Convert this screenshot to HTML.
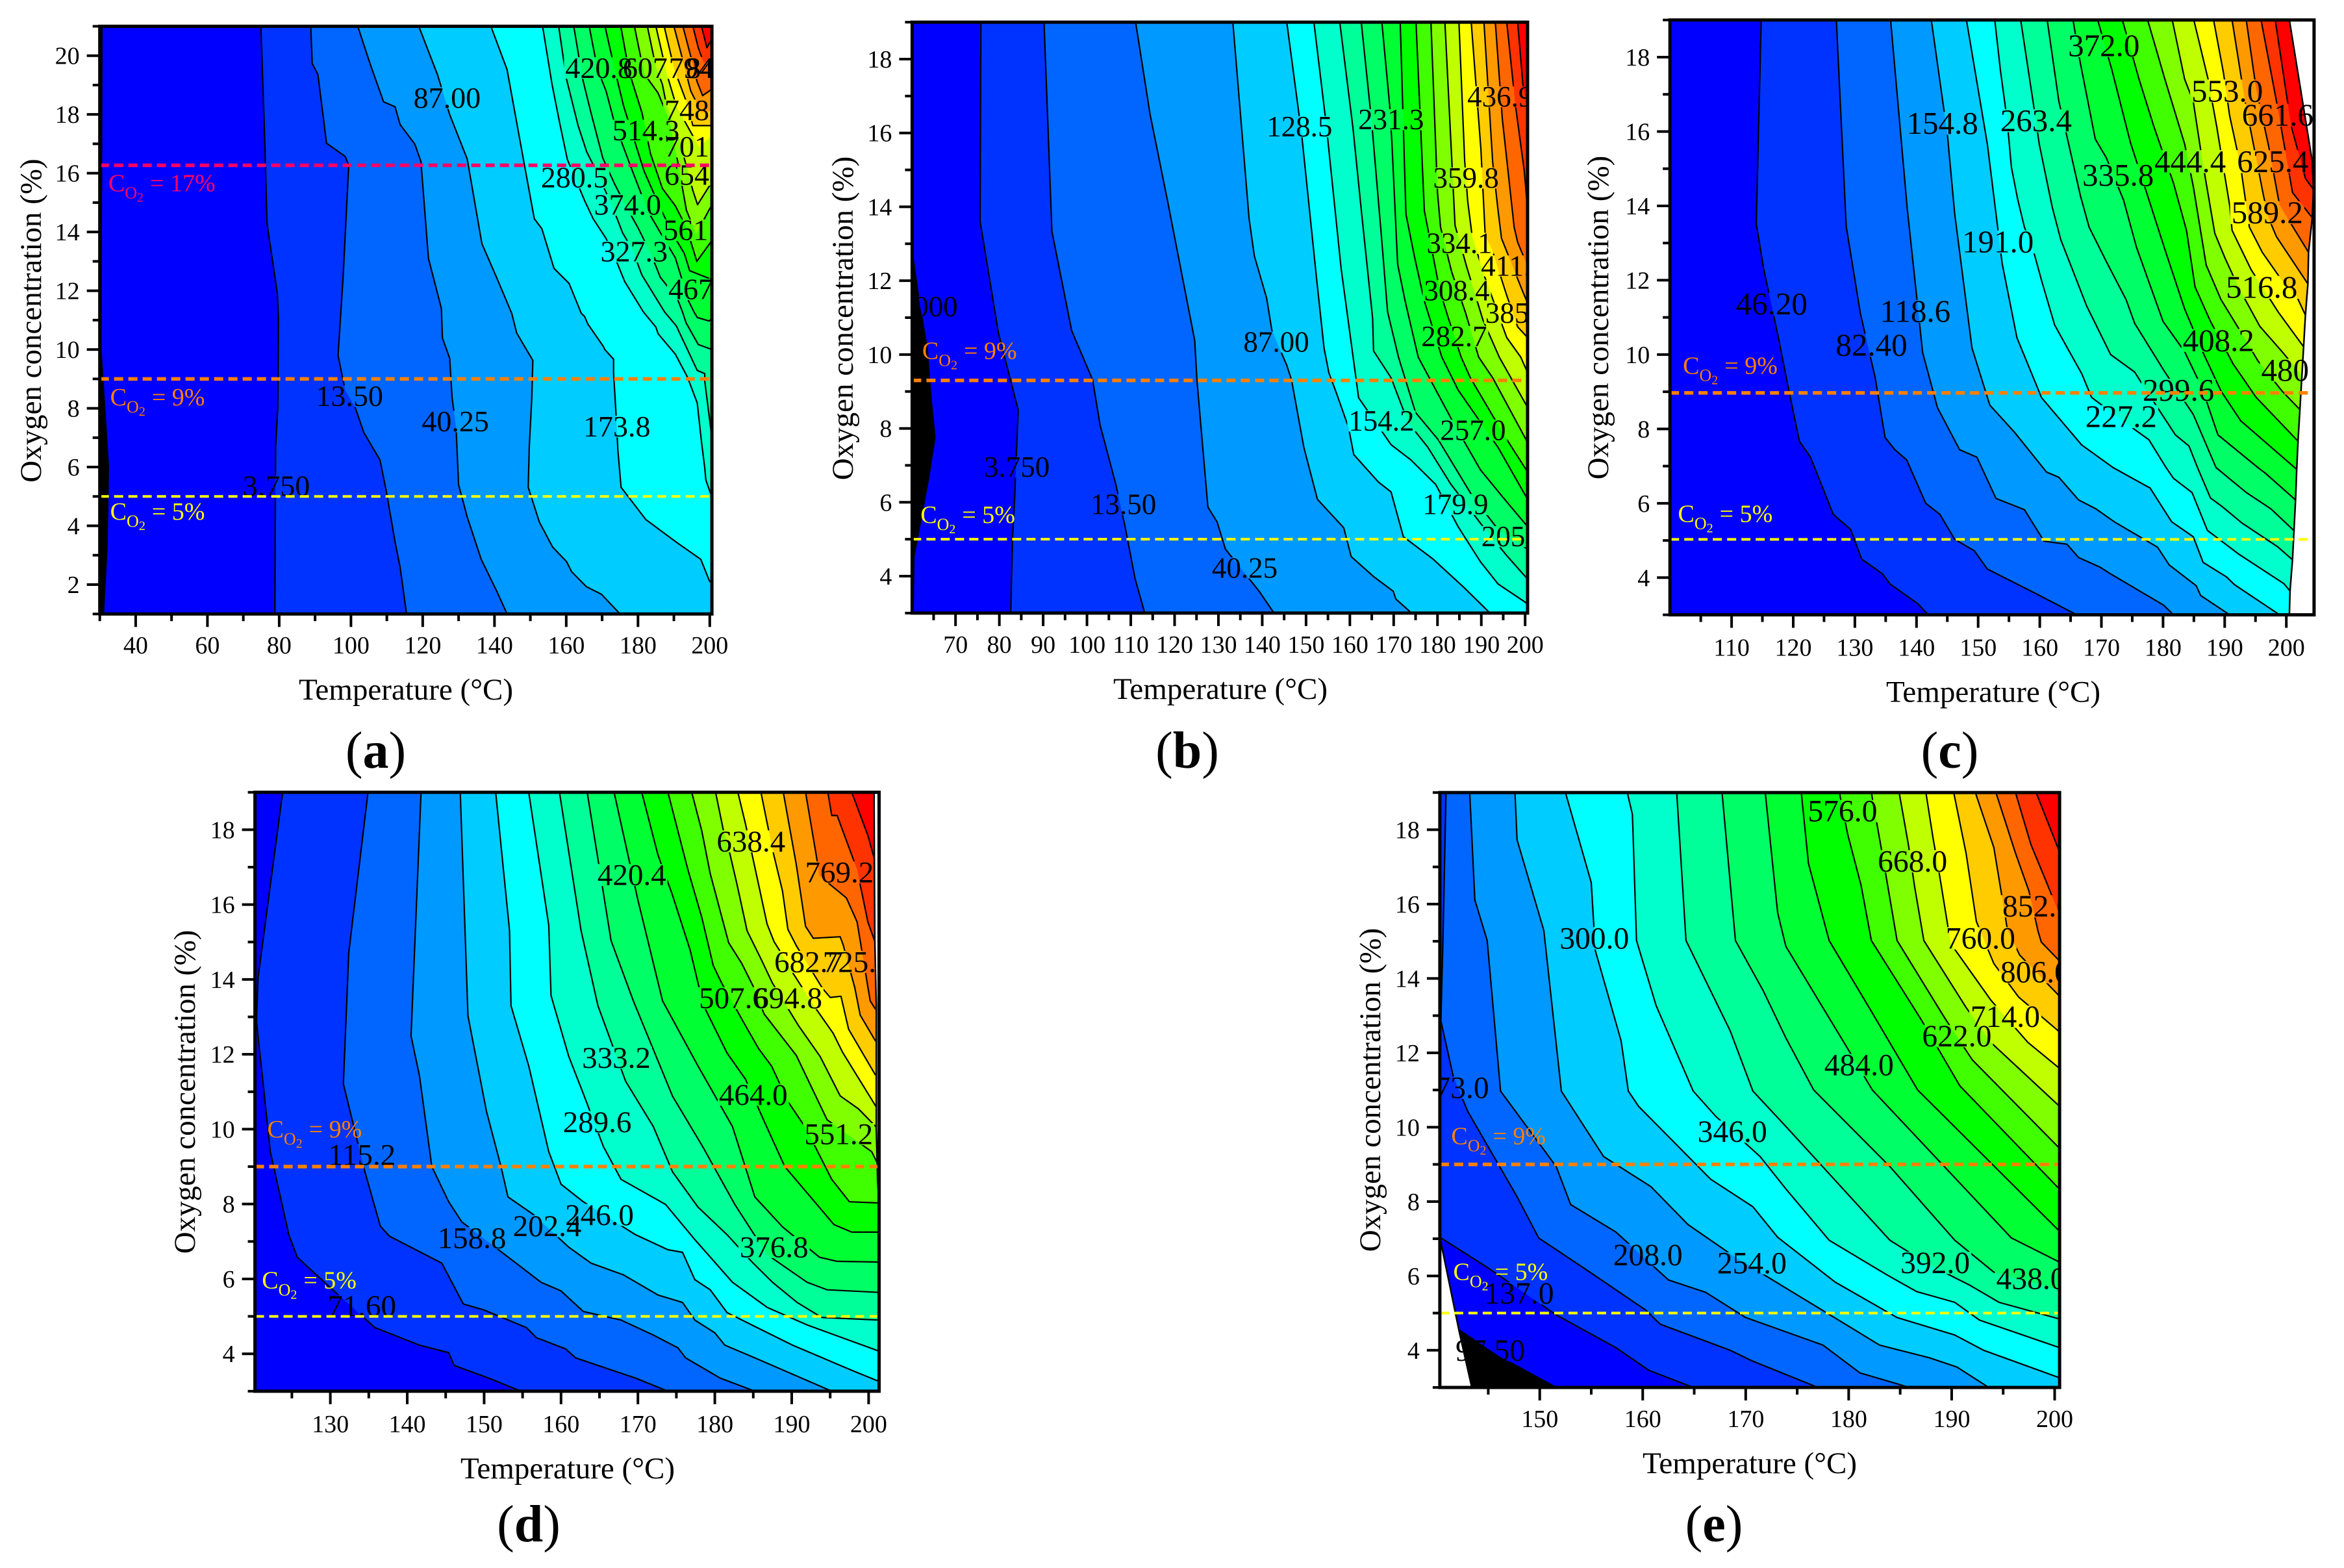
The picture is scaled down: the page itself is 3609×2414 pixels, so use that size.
<!DOCTYPE html>
<html lang="en">
<head>
<meta charset="utf-8">
<title>Oxygen concentration and temperature contour maps</title>
<style>
html,body{margin:0;padding:0;background:#fff}
svg{display:block;font-family:"Liberation Serif","Times New Roman",serif}
</style>
</head>
<body>
<svg id="figure" xmlns="http://www.w3.org/2000/svg" width="3609" height="2414" viewBox="0 0 3609 2414"></svg>
<script>
const bandColors = ['#000000','#0000ff','#0033ff','#0066ff','#0099ff','#00ccff','#00ffff','#00ffcc','#00ff99','#00ff66','#00ff33','#00ff00','#40ff00','#80ff00','#bfff00','#ffff00','#ffcc00','#ff9900','#ff6600','#ff3300','#ff0000'];
const xAxisTitle = 'Temperature (°C)';
const yAxisTitle = 'Oxygen concentration (%)';

/* Panel (a) */
const panelAContours = [
[[30.6,21],[30.3,10.05],[32.4,6],[32,3.3],[31,1]],
[[74.9,21],[76,17],[76.6,14.3],[79.5,11.9],[79.8,11],[79.6,8],[79,6.7],[78.8,1]],
[[88.8,21],[89.2,19.73],[90.8,19.36],[93.2,17.02],[98.4,16.57],[99.4,16.28],[97.8,12.42],[96.4,9.8],[98.4,8.61],[101.2,8.02],[103.6,7.17],[108.1,6.24],[109.9,5.14],[112.3,3.45],[113.7,2.6],[115.5,1]],
[[101.9,21],[105.4,19.7],[109.1,18.43],[112.3,18.26],[113.7,17.66],[117.8,16.99],[119.5,16.4],[121.6,13.1],[125.2,11.4],[125.5,10.39],[127.5,9.71],[128.2,8.36],[129.3,7.34],[130,5.4],[132.4,4.3],[136.3,2.86],[140.7,1.76],[143.5,1]],
[[118.9,21],[124.1,19.36],[127.5,18],[132.4,16.48],[136.5,13.6],[140.7,12.42],[144.8,11.23],[146.2,10.56],[150.7,9.63],[150.4,8.36],[149.7,6.67],[149.4,5.31],[152.5,4.13],[156.2,3.28],[160.1,2.78],[161.5,2.44],[165.6,1.93],[169.8,1.67],[175,1]],
[[139,21],[143.5,19.53],[148.3,16.31],[151.1,14.45],[153.2,14.11],[156.6,12.76],[160.8,12.25],[164.2,11.23],[165.1,11.13],[166,10.87],[170.2,10.13],[170.8,9.99],[173.2,9.67],[173.2,9.21],[173.8,7.96],[174.4,6.56],[175.3,5.31],[182.2,4.21],[190.6,3.45],[197.5,2.86],[200,2.1],[200.6,2.1]],
[[153.4,21],[156.05,19.02],[158.2,17.69],[160.3,16.47],[162.7,15.78],[165.1,15.07],[167.5,14.45],[171.1,13.78],[174.1,12.97],[176.3,12.31],[181.5,11.28],[185,10.76],[185.6,10.54],[190.4,9.84],[193.8,9.06],[196.5,8.18],[197.7,6.85],[198.6,5.97],[198.9,5.57],[200.6,4.97]],
[[157.9,21],[160,19.24],[163.3,17.62],[165.7,16.73],[169.3,15.85],[173.5,14.67],[175.7,13.97],[178.4,13.41],[181.1,12.53],[185.6,11.64],[187.4,11.28],[190.7,10.8],[196.5,9.29],[198.6,9.18],[198.6,8.92],[200.6,7]],
[[162.1,21],[164.5,19.24],[166.9,18.06],[170.2,16.51],[173.5,15.63],[176.6,14.89],[180.1,14.12],[183.8,13.2],[186.2,12.46],[191,11.72],[192.4,11.28],[193.4,10.91],[196.8,10.17],[200.6,10]],
[[166.4,21],[168.7,19.54],[171.1,18.8],[173.5,17.69],[177.8,16.28],[180.8,15.33],[182.6,14.74],[186.8,13.86],[190.4,13.12],[194.1,11.65],[195.6,11.28],[196.5,11.09],[199.8,10.97],[200.6,11.06]],
[[170.8,21],[173.5,19.54],[176,18.28],[179.6,16.88],[181.7,16.07],[186.5,14.74],[190.4,13.78],[192.9,13.27],[194.4,12.68],[200.6,12.38]],
[[175.2,21],[177.5,19.46],[181.1,18.06],[183.5,16.66],[186.8,15.48],[190.4,14.89],[193.5,14.15],[196.4,13],[200.6,13.71]],
[[179,21],[181.7,19.39],[185.6,18.73],[188.6,17.84],[191,16.44],[193.5,14.74],[196.2,13.93],[200.6,14.93]],
[[182.6,21],[185,19.61],[186.8,19.02],[188,18.28],[191.3,17.25],[195.3,15.41],[196.6,14.93],[200.6,15.7]],
[[185,21],[188,19.39],[190.7,18.28],[194.7,17.4],[197.1,16.88],[200.6,17.29]],
[[187.3,21],[190.1,19.54],[193.5,18.43],[195.3,17.62],[200.6,17.62]],
[[190,21],[192.2,19.98],[194.7,18.8],[197.7,18.06],[200.6,18.13]],
[[192.5,21],[194.7,19.98],[196.5,19.1],[198,18.64],[200.6,18.86]],
[[195.3,21],[196.8,20.27],[198.3,19.76],[200.6,19.83]],
[[197.7,21],[199.2,20.27],[200.6,20.57]]
];
const panelALabels = [['87.00',126.8,18.56],['13.50',99.6,8.41],['40.25',129.1,7.55],['173.8',174.1,7.38],['3.750',79.2,5.35],['420.8',169.1,19.58],['607',182,19.58],['794',194.8,19.58],['841',199.6,19.58],['748',193.6,18.14],['514.3',182.2,17.45],['701',193.6,16.9],['280.5',162.3,15.85],['654',193.6,15.94],['374.0',177.1,14.92],['561',193.3,14.06],['327.3',178.9,13.33],['467',194.7,12.05]];
const panelACo2 = [[16.27,'#ff0066',32.4,15.38,'17%'],[9,'#ff8000',32.9,8.1,'9%'],[5,'#ffff00',32.9,4.21,'5%']];
const panelAXMajor = [40,60,80,100,120,140,160,180,200];
const panelAXMinor = [30,50,70,90,110,130,150,170,190];
const panelAYMajor = [2,4,6,8,10,12,14,16,18,20];
const panelAYMinor = [1,3,5,7,9,11,13,15,17,19,21];

/* Panel (b) */
const panelBContours = [
[[60,19],[60,12.87],[61.6,11.53],[63.5,10.18],[64.4,8.83],[65.3,7.76],[63.9,6.68],[62.2,5.6],[60.5,4.53],[60.3,3]],
[[75.8,19],[75.6,13.61],[79.8,10.58],[84.3,8.5],[83.5,6.14],[83,5],[82.6,3]],
[[90.2,19],[92,13.34],[96.5,10.65],[101.3,9.31],[103,8.09],[106.6,6.48],[108.7,5.34],[111,3.92],[113.2,3]],
[[111.1,19],[114.4,16.51],[118.3,14.22],[124.6,10.38],[125.1,9.31],[127.6,5.87],[129.7,5.47],[131.6,4.73],[139.3,3.59],[142.7,3]],
[[133.3,19],[137,13.68],[138.2,12.67],[141,11.53],[142.2,10.65],[145.6,9.71],[146.7,9.31],[149.5,7.49],[152.6,6.08],[158.6,5.31],[160.3,4.53],[165.4,3.99],[169.9,3.59],[170.5,3.38],[174.1,3]],
[[145.6,19],[149,15.97],[152.4,12.06],[154.1,10.18],[155.2,9.51],[156.9,8.97],[159.7,8.03],[160.9,7.29],[166.5,6.55],[169.4,6.28],[172.2,5.07],[179,4.46],[185.8,3.72],[192,3]],
[[151.8,19],[154.6,16.24],[158,12.33],[159.7,10.85],[162,8.83],[169.4,7.56],[173.9,7.15],[179.6,6.48],[184.7,5.34],[189.8,4.39],[193.8,3.79],[200.56,3.25]],
[[157.7,19],[160.7,16.14],[162.7,13.8],[165.2,10.98],[165.4,10.1],[169.4,9.37],[173.3,8.16],[177.8,7.49],[183,6.5],[190.4,5.34],[196,4.53],[200.56,3.92]],
[[162.6,19],[165,16.26],[167.2,13.21],[168.6,11.16],[171.1,9.93],[175,8.43],[180.2,7.69],[188.1,6.14],[193.8,5.27],[200.56,4.73]],
[[167.3,19],[169.1,16.73],[169.6,15.73],[170.9,12.45],[172.6,11.45],[175.6,9.93],[183.6,8.16],[189.8,6.88],[194.9,6.14],[200.56,5.34]],
[[171.5,19],[172.8,13.8],[174.8,12.62],[177,11.45],[181,9.93],[184.7,9.04],[193.8,7.49],[200.56,6.08]],
[[175.1,19],[177,13.9],[180.5,11.75],[182.5,10.98],[185.4,9.93],[187.5,9.37],[195.5,7.76],[200.56,6.82]],
[[178.5,19],[180,14.38],[180.7,13.45],[183.2,12.25],[186.4,11.13],[189.4,9.93],[192.6,9.37],[200.56,7.62]],
[[181.7,19],[184,13.5],[186.7,12.36],[190.4,10.93],[194.1,9.93],[200.56,8.57]],
[[184.9,19],[186.2,15.26],[186.9,14.15],[187.9,13.21],[190.6,12.16],[195.8,10.46],[199,9.93],[200.56,9.51]],
[[187.7,19],[189.9,15.56],[190.9,13.21],[192.4,12.86],[195.8,11.6],[198.3,10.75],[200.56,10.46]],
[[190.6,19],[192.6,15.2],[193.8,13.92],[194.6,13.15],[199.3,11.75],[200.56,11.39]],
[[193.2,19],[194.8,16.38],[197.5,13.45],[198.3,13.04],[200.56,12.39]],
[[195.8,19],[197.8,16.73],[199.8,14.97],[200.56,13.91]],
[[198.3,19],[199.5,17.31],[200.56,16.61]]
];
const panelBLabels = [['128.5',148.5,16.17],['231.3',169.4,16.36],['436.9',194.3,16.98],['359.8',186.5,14.78],['334.1',185,13.01],['411.1',197.3,12.4],['308.4',184.4,11.73],['385.5',198.4,11.12],['282.7',183.8,10.49],['87.00',143.2,10.34],['154.2',167.2,8.2],['257.0',188.1,7.95],['3.750',84,6.95],['13.50',108.3,5.94],['179.9',184.1,5.94],['205.6',197.5,5.07],['40.25',136,4.22],['1.000',63,11.3]];
const panelBCo2 = [[9.3,'#ff8000',62.4,9.88,'9%'],[5,'#ffff00',62,5.44,'5%']];
const panelBXMajor = [70,80,90,100,110,120,130,140,150,160,170,180,190,200];
const panelBXMinor = [65,75,85,95,105,115,125,135,145,155,165,175,185,195];
const panelBYMajor = [4,6,8,10,12,14,16,18];
const panelBYMinor = [3,5,7,9,11,13,15,17,19];

/* Panel (c) */
const panelCContours = [
[[114.8,19],[114,13.52],[115.2,12.32],[117.6,10.45],[119.2,9.11],[121,7.67],[122.8,7.24],[126.5,5.7],[129.3,5.3],[131.1,4.5],[134.5,4.1],[135.7,3.83],[140.2,3.3],[141.9,3]],
[[127,19],[128.6,13.45],[130.9,11.11],[133.3,9.38],[134.9,7.77],[136.5,7.44],[138.4,7.17],[141.5,6],[143.8,5.7],[146.2,5.03],[149.4,4.72],[151.5,4.23],[159.5,3.56],[166,3]],
[[135.8,19],[138.5,13.92],[141,10.05],[143.4,8.57],[147,7.44],[149.8,7.24],[152.9,6.13],[157.5,5.83],[160.7,4.98],[164.4,4.9],[166.3,4.54],[169.8,4.28],[171.4,4.11],[180.1,3.26],[181.7,3]],
[[142.4,19],[145,15.93],[146.2,13.79],[149,10.18],[151.9,8.64],[155.9,7.91],[161.1,6.84],[163.1,6.7],[166.3,6.09],[169.1,5.85],[172.1,5.5],[179.1,4.82],[181,4.34],[185.4,3.78],[186.1,3.52],[190.8,3]],
[[148.1,19],[151.5,15.66],[153.9,12.45],[156.3,10.45],[160.3,8.84],[166.8,7.57],[171.9,6.96],[177.9,6.41],[181.4,5.5],[184.9,5.1],[186.5,4.41],[190.3,4.02],[191.6,3.81],[198.9,3]],
[[152.7,19],[153.6,17.66],[154.7,16.31],[155.4,15.04],[156.4,14.19],[157.5,13.43],[158.9,12.83],[160.3,11.99],[162.4,10.8],[164.1,10.29],[166.8,9.49],[168.4,8.85],[173.1,8.26],[177.7,7.71],[180.5,6.96],[181.7,6.67],[184.7,6.29],[187.2,5.27],[192.3,4.63],[199.6,3.84],[200.6,3.64]],
[[156.9,19],[158.9,16.81],[159.9,15.67],[162,13.98],[163.4,13.09],[165.2,12.33],[167.6,11.31],[171.5,10],[175.4,9.53],[177.5,8.98],[182,7.84],[184.2,7.54],[185.6,6.96],[187.7,6.14],[189.6,5.91],[192.8,5.47],[198.6,4.83],[201,4.48]],
[[161.2,19],[163.1,16.81],[164.5,15.8],[166.6,14.27],[168,13.43],[170.8,12.5],[174,11.48],[175.4,10.84],[180.3,9.53],[184.9,8.39],[188.6,6.96],[193.5,6.29],[197.5,5.85],[201.2,5.27]],
[[165.4,19],[166.4,18],[169,15.8],[170.8,15.29],[173.6,14.15],[175.7,12.88],[180,10.89],[183.5,10.08],[186.3,9.11],[188.9,7.84],[195.4,6.96],[196.6,6.81],[201.5,6.09]],
[[169.4,19],[171.7,17.66],[174.7,15.71],[177,14.53],[180.3,12.83],[183.5,11.23],[186.3,10.12],[189.4,9.02],[192.6,8.22],[201.7,6.91]],
[[173.4,19],[176.1,17.41],[178.5,16.14],[181.7,14.61],[183.8,13.34],[185.2,11.82],[187.7,10.89],[191.4,9.74],[195.1,8.85],[201.9,7.67]],
[[177.5,19],[180.3,17.41],[183.5,15.67],[184.9,14.53],[187,12.41],[189.4,11.48],[192.2,10.72],[195.4,9.83],[199.3,9.02],[202.2,8.52]],
[[181.5,19],[183.5,17.41],[184.9,16.81],[186.3,15.29],[188.4,13.26],[190.1,12.58],[192.2,11.82],[195.7,10.76],[199.3,10.08],[202.9,9.36]],
[[185,19],[187.3,17.41],[188.7,16.14],[190.8,14.02],[191.2,13.34],[194.3,12.28],[198.7,11.14],[202.8,10.21]],
[[188.2,19],[189.8,17.58],[190.8,16.43],[192.6,15.04],[194,13.43],[196.1,12.75],[199.3,11.99],[201.7,11.56],[203.1,11.06]],
[[191.2,19],[193.3,16.81],[196.3,14.27],[197.1,13.68],[198.4,13.17],[203.5,11.9]],
[[193.5,19],[195.1,17.15],[197.1,15.63],[198.9,14.02],[203.6,12.75]],
[[195.9,19],[198.6,16.64],[201,14.36],[204.2,13.68]],
[[198.2,19],[200.8,16.14],[203.1,14.74],[204.4,14.44]]
];
const panelCEdge = [[200.5,19],[204.2,15.2],[204.4,14.44],[204.2,13.68],[203.6,12.75],[203.5,11.9],[203.1,11.06],[202.8,10.21],[202.2,8.52],[201.9,7.67],[201.7,6.96],[201.5,6.09],[201,4.48],[200.6,3.64],[200.5,3]];
const panelCLabels = [['372.0',170.4,18.31],['553.0',190.4,17.09],['154.8',144.2,16.22],['263.4',159.4,16.29],['661.6',198.6,16.44],['335.8',172.7,14.82],['444.4',184.4,15.19],['625.4',197.8,15.19],['589.2',196.9,13.82],['191.0',153.2,13.03],['516.8',196,11.81],['46.20',116.5,11.36],['118.6',139.8,11.16],['82.40',132.7,10.25],['408.2',189,10.38],['480',199.8,9.58],['299.6',182.5,9.04],['227.2',173.2,8.33]];
const panelCCo2 = [[8.97,'#ff8000',102.1,9.48,'9%'],[5.03,'#ffff00',101.3,5.5,'5%']];
const panelCXMajor = [110,120,130,140,150,160,170,180,190,200];
const panelCXMinor = [105,115,125,135,145,155,165,175,185,195];
const panelCYMajor = [4,6,8,10,12,14,16,18];
const panelCYMinor = [3,5,7,9,11,13,15,17,19];

/* Panel (d) */
const panelDContours = [
[[123.8,19],[120.6,14.04],[120.4,12.89],[122.2,9.4],[124.6,7.18],[125.7,6.58],[129.6,5.84],[135.8,4.7],[141.6,4.23],[145.4,4.03],[146.1,3.69],[150.6,3.35],[154.8,3]],
[[134.9,19],[132.4,14.71],[131.7,11.21],[134.5,8.86],[136.5,7.41],[137.7,7.14],[144.5,6.42],[147.3,5.33],[150,5.17],[155.5,4.7],[156.8,4.43],[160.6,4.13],[161.9,3.89],[169.7,3.35],[173.9,3]],
[[141.8,19],[140.5,12.49],[141.6,11.42],[143.2,9],[145.4,8.06],[147.1,7.52],[153.6,6.51],[157.4,5.91],[160,5.68],[162.9,5.13],[167.8,4.9],[172,4.5],[175.2,4.16],[176.2,3.89],[180.7,3.35],[185.2,3]],
[[146.9,19],[147.9,13.03],[148.4,12.49],[150.3,10.48],[152.2,9],[153.1,8.19],[156.4,7.72],[161,6.85],[163.9,6.42],[168.1,6.11],[172.6,5.57],[175.8,5.37],[177.4,4.9],[180,4.56],[181.3,4.23],[185.2,3.89],[191.3,3.35],[195.2,3]],
[[151.5,19],[153.3,15.31],[153.5,13.3],[155.8,11.69],[158.4,9.4],[160,8.53],[162.9,8.06],[169.7,7.18],[173.9,6.78],[175.8,6.71],[177.4,5.98],[179.4,5.71],[181.6,5.1],[185.5,4.7],[190.1,4.23],[197.8,3.56],[201.36,3.26]],
[[155.8,19],[158.4,15.45],[158.7,13.57],[161,11.95],[162.9,10.95],[165.5,9.54],[167.8,8.66],[173.6,7.99],[177.4,7.05],[182.3,5.91],[186.8,5.24],[192,4.77],[201.36,4.07]],
[[159.8,19],[162.6,15.31],[164.8,13.3],[168.4,11.28],[172,10.07],[174.5,8.86],[177.8,7.92],[181.6,7.18],[184.9,6.44],[187.5,5.91],[190.7,5.37],[193.9,4.97],[201.36,4.9]],
[[163.4,19],[166.5,15.04],[169.4,13.43],[174.5,10.88],[178.4,9.54],[182.6,7.99],[186.8,6.65],[192,5.91],[194.6,5.71],[201.36,5.64]],
[[166.9,19],[170,16.12],[173.2,13.43],[177.8,11.69],[182.3,10.07],[185.2,8.19],[188.8,7.39],[193.6,6.58],[195.9,6.47],[201.36,6.45]],
[[170.5,19],[172.6,17.33],[174.5,16.25],[176.8,14.78],[178.5,13.32],[181.6,12.03],[184,11.33],[186.4,10.22],[189.1,9],[195.5,7.45],[197.8,7.25],[201.36,7.25]],
[[173.9,19],[176.5,16.93],[178.3,15.66],[179.8,14.37],[180.9,13.9],[184,12.76],[185.7,12.15],[187.4,11.68],[189.5,10.74],[191.8,10.04],[195.2,8.66],[197.5,8.06],[201.36,8.03]],
[[177,19],[178.3,17.97],[179.4,16.83],[181.8,14.98],[183.5,14.43],[185.2,13.73],[186.4,13.08],[190.6,11.97],[194.6,10.25],[200.4,9.4],[201.36,9]],
[[180.1,19],[181.1,18],[181.9,17.41],[182.9,16.53],[184.2,15.3],[186,14.55],[187.5,13.9],[190.9,12.76],[193.7,11.94],[196.3,10.89],[198.7,10.54],[201.06,10.04]],
[[183,19],[184,18.14],[185.2,17],[186.8,15.48],[187.7,15.01],[188.4,14.78],[190.1,14.19],[192.8,13.32],[195.4,12.56],[196.6,12.06],[201.06,10.57]],
[[186,19],[187.5,17.47],[188.8,16.36],[189.5,15.34],[190.6,14.9],[194,13.76],[195,13.52],[196.4,13.55],[197.4,12.67],[200.9,11.44]],
[[188.9,19],[190.6,17.06],[191.8,15.42],[192.8,15.1],[196.3,15.14],[196.7,14.92],[198.2,13.78],[198.9,13.05],[200.9,12.35]],
[[191.8,19],[193.2,17.3],[193.6,16.77],[197.1,16.18],[198.5,15.54],[200.2,13.43],[200.9,13.2]],
[[194.7,19],[195.2,18.38],[195.9,18.38],[198.5,16.94],[199.9,15.54],[200.9,14.96]],
[[197.8,19],[199.9,17.85],[200.8,17.18]]
];
const panelDEdge = [[200.7,19],[200.8,15.07],[201,13.3],[201,10],[201.17,8.6],[201.36,8]];
const panelDLabels = [['638.4',184.7,17.69],['420.4',169.2,16.79],['769.2',196.2,16.86],['682.7',192.2,14.47],['725.6',198.5,14.47],['507.6',182.4,13.5],['694.8',189.5,13.5],['333.2',167.2,11.91],['464.0',185,10.92],['289.6',164.7,10.19],['551.2',196.1,9.87],['115.2',134.1,9.31],['246.0',165,7.71],['202.4',158.2,7.41],['158.8',148.4,7.09],['376.8',187.7,6.85],['71.60',134.1,5.28]];
const panelDCo2 = [[9,'#ff8000',121.8,9.78,'9%'],[5,'#ffff00',121.1,5.75,'5%']];
const panelDXMajor = [130,140,150,160,170,180,190,200];
const panelDXMinor = [125,135,145,155,165,175,185,195];
const panelDYMajor = [4,6,8,10,12,14,16,18];
const panelDYMinor = [3,5,7,9,11,13,15,17,19];

/* Panel (e) */
const panelEContours = [
[[140.3,4.54],[142.2,4.54],[146.3,3.8],[151.6,3]],
[[140.3,7.04],[144.9,6.23],[151.6,4.95],[157.4,4.07],[160.6,3.46],[164.9,3]],
[[140.9,19],[140.6,15.02],[140.4,12.86],[141.6,11.37],[143,10.43],[147.8,8.13],[149.9,7.02],[154.5,6.17],[160.3,5.08],[161.7,4.7],[168.5,4],[170.5,3.73],[177,3]],
[[143.2,19],[143.7,16.11],[144.9,15.02],[146.2,10.97],[151.6,8.94],[153,7.92],[157.4,7.18],[162.5,5.89],[166.1,5.56],[170,4.88],[177.5,4.14],[181.1,3.39],[185.9,3]],
[[147.6,19],[147.8,17.73],[150.4,15.29],[152.1,10.97],[156.2,9.21],[160.8,8.4],[164.4,7.38],[169,6.5],[173.8,5.69],[178.2,4.95],[183,4.14],[187.8,3.8],[190.5,3.55],[193.6,3]],
[[152.5,19],[155,16.58],[155.4,14.75],[157.9,12.32],[158.6,10.97],[159.6,10.56],[166.6,8.6],[170.7,7.86],[173.1,7.04],[178.7,5.83],[184.7,4.88],[190.3,4.41],[193.1,4],[200.48,3.26]],
[[158.5,19],[159,18.41],[159.4,15.02],[161.3,13.27],[164.9,10.97],[167.1,10.29],[171.4,9.21],[173.9,8.34],[178.1,6.96],[183.7,6.03],[186.6,5.58],[190.3,5.29],[192.7,4.81],[200.48,4.07]],
[[163.3,19],[164.2,15.02],[168.5,12.59],[170.7,10.97],[173.9,10.02],[184,6.96],[187.8,6.3],[191.7,5.76],[194.6,5.29],[200.48,4.84]],
[[167.7,19],[169,15.02],[171.7,13.67],[173.9,12.4],[176.6,11],[184,8.94],[190.3,6.96],[194.1,6.1],[200.48,5.62]],
[[171.9,19],[173.1,15.77],[173.9,14.86],[179.8,12.16],[182.3,11],[195.8,7.02],[200.48,6.37]],
[[175.4,19],[176.1,17.09],[178.1,15.02],[182.3,13.07],[186.7,11],[200.48,7.2]],
[[179.1,19],[179.9,17.88],[181.2,16.51],[182.2,15.02],[187,12.91],[190.8,11.11],[200.48,8.33]],
[[182.2,19],[183.3,17.29],[184.7,15.02],[189.3,12.95],[192,11.81],[200.48,9.43]],
[[184.9,19],[185.8,17.6],[186.4,16.47],[187.3,15.02],[191.4,13.22],[193.8,12.28],[200.48,10.56]],
[[187.5,19],[188.2,17.76],[188.8,16.82],[189.9,14.94],[193.8,13.42],[197.4,12.28],[200.48,11.58]],
[[190.2,19],[191.4,17.37],[192.4,15.53],[194.1,14.4],[196.5,13.5],[200.48,12.56]],
[[192.3,19],[194.1,17.52],[195.4,15.33],[196.6,14.63],[200.48,13.52]],
[[194.3,19],[196.2,17.37],[197.5,16.35],[198.4,15.26],[198.7,14.98],[200.48,14.47]],
[[196.2,19],[197.7,17.6],[199.1,16.66],[200.48,15.72]],
[[198.2,19],[200.48,17.4]]
];
const panelEEdge = [[140.3,7.04],[142.2,4.48],[143.4,3]];
const panelELabels = [['576.0',179.4,18.5],['668.0',186.2,17.15],['852.0',198.3,15.94],['300.0',155.3,15.08],['760.0',192.8,15.08],['806.0',198.1,14.17],['714.0',195.2,12.97],['622.0',190.5,12.45],['484.0',181,11.67],['173.0',141.7,11.06],['346.0',168.7,9.88],['208.0',160.5,6.56],['254.0',170.6,6.34],['392.0',188.4,6.35],['438.0',197.7,5.92],['137.0',148,5.53],['97.50',145.2,3.99]];
const panelECo2 = [[9,'#ff8000',141.4,9.54,'9%'],[5,'#ffff00',141.6,5.89,'5%']];
const panelEXMajor = [150,160,170,180,190,200];
const panelEXMinor = [145,155,165,175,185,195];
const panelEYMajor = [4,6,8,10,12,14,16,18];
const panelEYMinor = [3,5,7,9,11,13,15,17,19];

const NS = 'http://www.w3.org/2000/svg';
const root = document.getElementById('figure');
function make(tag, attrs, parent){
  const n = document.createElementNS(NS, tag);
  for (const k in attrs) n.setAttribute(k, attrs[k]);
  if (parent) parent.appendChild(n);
  return n;
}
function labelWidth(s, size){
  let w = 0;
  for (const c of s) w += (c === '.' ? 0.25 : 0.5);
  return w * size;
}

function drawPanel(p){
  const x = t => p.x0 + (t - p.t0) * (p.x1 - p.x0) / (p.t1 - p.t0);
  const y = o => p.y0 + (o - p.o0) * (p.y1 - p.y0) / (p.o1 - p.o0);
  const pts = arr => arr.map(a => x(a[0]).toFixed(1) + ',' + y(a[1]).toFixed(1)).join(' ');
  const L = x(p.xmin), R = x(p.xmax), T = y(p.ymax), B = y(p.ymin);

  const g = make('g', {}, root);
  
  

  const defs = make('defs', {}, g);
  const clip = make('clipPath', {id:'clip-' + p.id}, defs);
  make('rect', {x:L, y:T, width:R - L, height:B - T}, clip);
  const mask = make('mask', {id:'mask-' + p.id, maskUnits:'userSpaceOnUse', x:L, y:T, width:R - L, height:B - T}, defs);
  make('rect', {x:L, y:T, width:R - L, height:B - T, fill:'#fff'}, mask);
  p.labels.forEach(l => {
    const w = labelWidth(l[0], p.labelSize) + 4;
    const h = p.labelSize * 0.72;
    make('rect', {x:x(l[1]) - w / 2, y:y(l[2]) - h / 2, width:w, height:h, fill:'#000'}, mask);
  });

  const plot = make('g', {'clip-path':'url(#clip-' + p.id + ')'}, g);
  
  

  const bg = make('rect', {x:L, y:T, width:R - L, height:B - T, fill:bandColors[p.baseBand]}, plot);
  
  

  p.contours.forEach((c, i) => {
    const first = c[0], last = c[c.length - 1];
    const poly = c.slice();
    if (last[1] > p.ymin + 0.01) {
      poly.push([p.xmax, last[1]]);
    } else {
      poly.push([p.xmax, p.ymin]);
    }
    poly.push([p.xmax, p.ymax]);
    if (first[1] < p.ymax - 0.01) poly.push([p.xmin, p.ymax]);
    if (first[1] < p.ymax - 0.01) poly.push([p.xmin, first[1]]);
    const band = make('polygon', {points:pts(poly), fill:bandColors[p.baseBand + i + 1]}, plot);
    
    
  });

  const lines = make('g', {mask:'url(#mask-' + p.id + ')', fill:'none', stroke:'#000', 'stroke-width':2.2, 'stroke-linejoin':'round'}, plot);
  
  
  p.contours.forEach(c => {
    const line = make('polyline', {points:pts(c)}, lines);
    
    
  });

  if (p.edge) {
    const tail = p.edge[p.edge.length - 1];
    const poly = p.edgeSide === 'right'
      ? p.edge.concat(tail[1] > p.ymin ? [[p.xmax, tail[1]], [p.xmax, p.ymax]] : [[p.xmax, p.ymin], [p.xmax, p.ymax]])
      : p.edge.concat([[p.xmin, p.ymin]]);
    const blank = make('polygon', {points:pts(poly), fill:'#fff'}, plot);
    
    
    const edge = make('polyline', {points:pts(p.edge), fill:'none', stroke:'#000', 'stroke-width':2.5}, plot);
    
    
  }

  p.labels.forEach(l => {
    const t = make('text', {x:x(l[1]), y:y(l[2]) + p.labelSize * 0.33, 'font-size':p.labelSize, 'text-anchor':'middle', fill:'#000'}, plot);
    t.textContent = l[0];
    
    
  });

  p.co2.forEach(c => {
    const d = make('line', {x1:L, x2:R, y1:y(c[0]), y2:y(c[0]), stroke:c[1], 'stroke-width':c[1] === '#ffff00' ? 4 : 5.5, 'stroke-dasharray':'14 8'}, plot);
    
    
    const t = make('text', {x:x(c[2]), y:y(c[3]), 'font-size':38, fill:c[1]}, plot);
    
    
    const s1 = make('tspan', {}, t);
    s1.textContent = 'C';
    const s2 = make('tspan', {dy:11, 'font-size':26}, t);
    s2.textContent = 'O';
    const s3 = make('tspan', {dy:5, 'font-size':20}, t);
    s3.textContent = '2';
    const s4 = make('tspan', {dy:-16, dx:10}, t);
    s4.textContent = '= ' + c[4];
  });

  const frame = make('rect', {x:L, y:T, width:R - L, height:B - T, fill:'none', stroke:'#000', 'stroke-width':5}, g);
  
  

  p.xMinor.forEach(v => {
    const k = make('line', {x1:x(v), x2:x(v), y1:B, y2:B + 11, stroke:'#000', 'stroke-width':4}, g);
    
    
  });
  p.xMajor.forEach(v => {
    const k = make('line', {x1:x(v), x2:x(v), y1:B, y2:B + 20, stroke:'#000', 'stroke-width':4}, g);
    
    
    const t = make('text', {x:x(v), y:B + p.tickGap, 'font-size':38, 'text-anchor':'middle', fill:'#000'}, g);
    t.textContent = String(v);
    
    
  });
  p.yMinor.forEach(v => {
    const k = make('line', {x1:L - 11, x2:L, y1:y(v), y2:y(v), stroke:'#000', 'stroke-width':4}, g);
    
    
  });
  p.yMajor.forEach(v => {
    const k = make('line', {x1:L - 20, x2:L, y1:y(v), y2:y(v), stroke:'#000', 'stroke-width':4}, g);
    
    
    const t = make('text', {x:L - 31, y:y(v) + 13, 'font-size':38, 'text-anchor':'end', fill:'#000'}, g);
    t.textContent = String(v);
    
    
  });

  const xt = make('text', {x:p.xTitleX, y:p.xTitleY, 'font-size':47, 'text-anchor':'middle', fill:'#000'}, g);
  xt.textContent = xAxisTitle;
  
  

  const yt = make('text', {transform:'translate(' + p.yTitleX + ',' + p.yTitleY + ') rotate(-90)', 'font-size':47, 'text-anchor':'middle', fill:'#000'}, g);
  yt.textContent = yAxisTitle;
  
  

  const pl = make('text', {x:p.letterX, y:p.letterY, 'font-size':80, 'text-anchor':'middle', fill:'#000'}, g);
  
  
  const a1 = make('tspan', {}, pl);
  a1.textContent = '(';
  const a2 = make('tspan', {'font-weight':'bold'}, pl);
  a2.textContent = p.id;
  const a3 = make('tspan', {}, pl);
  a3.textContent = ')';
}

drawPanel({id:'a', x0:208.9, x1:1092.8, t0:40, t1:200, y0:85.7, y1:900, o0:20, o1:2, xmin:30, xmax:200.6, ymin:1, ymax:21, baseBand:0, contours:panelAContours, labels:panelALabels, co2:panelACo2, xMajor:panelAXMajor, xMinor:panelAXMinor, yMajor:panelAYMajor, yMinor:panelAYMinor, labelSize:46, tickGap:61, xTitleX:625, xTitleY:1077, yTitleX:63, yTitleY:493.6, letterX:578.5, letterY:1182});
drawPanel({id:'b', x0:1471.2, x1:2348.2, t0:70, t1:200, y0:91, y1:887, o0:18, o1:4, xmin:60.1, xmax:200.56, ymin:3, ymax:19, baseBand:0, contours:panelBContours, labels:panelBLabels, co2:panelBCo2, xMajor:panelBXMajor, xMinor:panelBXMinor, yMajor:panelBYMajor, yMinor:panelBYMinor, labelSize:45, tickGap:61, xTitleX:1879, xTitleY:1076, yTitleX:1313, yTitleY:490, letterX:1828, letterY:1182});
drawPanel({id:'c', x0:2666.1, x1:3520.2, t0:110, t1:200, y0:88, y1:889.3, o0:18, o1:4, xmin:100, xmax:204.5, ymin:3, ymax:19, baseBand:1, contours:panelCContours, edge:panelCEdge, edgeSide:'right', labels:panelCLabels, co2:panelCCo2, xMajor:panelCXMajor, xMinor:panelCXMinor, yMajor:panelCYMajor, yMinor:panelCYMinor, labelSize:49, tickGap:63, xTitleX:3069, xTitleY:1080.6, yTitleX:2476, yTitleY:489, letterX:3002, letterY:1182});
drawPanel({id:'d', x0:508.6, x1:1337.4, t0:130, t1:200, y0:1277.4, y1:2084.2, o0:18, o1:4, xmin:120.2, xmax:201.36, ymin:3, ymax:19, baseBand:1, contours:panelDContours, edge:panelDEdge, edgeSide:'right', labels:panelDLabels, co2:panelDCo2, xMajor:panelDXMajor, xMinor:panelDXMinor, yMajor:panelDYMajor, yMinor:panelDYMinor, labelSize:47, tickGap:63, xTitleX:874, xTitleY:2276, yTitleX:300, yTitleY:1681, letterX:814, letterY:2373});
drawPanel({id:'e', x0:2370.7, x1:3163.5, t0:150, t1:200, y0:1277.4, y1:2078.8, o0:18, o1:4, xmin:140.3, xmax:200.48, ymin:3, ymax:19, baseBand:0, contours:panelEContours, edge:panelEEdge, edgeSide:'left', labels:panelELabels, co2:panelECo2, xMajor:panelEXMajor, xMinor:panelEXMinor, yMajor:panelEYMajor, yMinor:panelEYMinor, labelSize:47.6, tickGap:61, xTitleX:2694, xTitleY:2268, yTitleX:2125, yTitleY:1678, letterX:2639, letterY:2373});
</script>
</body>
</html>
